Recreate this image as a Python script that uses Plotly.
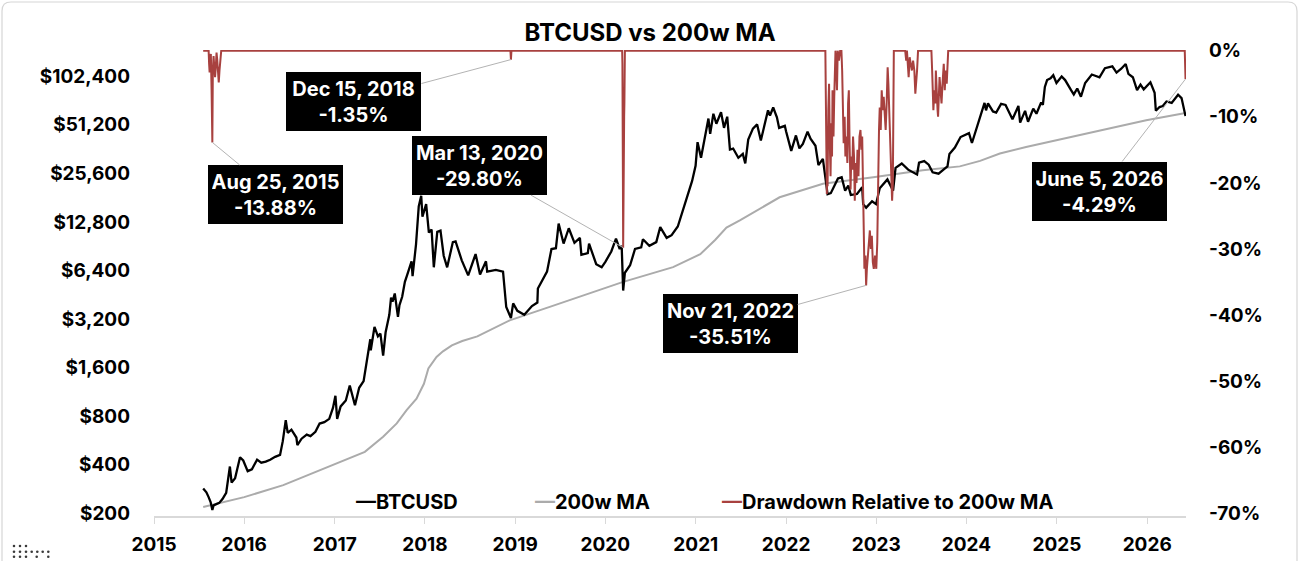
import plotly.graph_objects as go

# ---------------- data ----------------
btc_dates = [
    "2015-07-19", "2015-07-23", "2015-08-01", "2015-08-10", "2015-08-18", "2015-08-25",
    "2015-08-30", "2015-09-10", "2015-09-22", "2015-10-05", "2015-10-20", "2015-11-04",
    "2015-11-11", "2015-11-25", "2015-12-08", "2015-12-15", "2015-12-28", "2016-01-15",
    "2016-02-01", "2016-02-22", "2016-03-10", "2016-03-28", "2016-04-15", "2016-05-05",
    "2016-05-25", "2016-06-05", "2016-06-17", "2016-06-25", "2016-07-10", "2016-07-30",
    "2016-08-03", "2016-08-20", "2016-09-10", "2016-09-25", "2016-10-15", "2016-11-01",
    "2016-11-20", "2016-12-10", "2016-12-25", "2017-01-04", "2017-01-11", "2017-01-25",
    "2017-02-15", "2017-03-03", "2017-03-24", "2017-04-10", "2017-04-28", "2017-05-10",
    "2017-05-25", "2017-05-27", "2017-06-11", "2017-06-25", "2017-07-05", "2017-07-16",
    "2017-07-26", "2017-08-10", "2017-08-17", "2017-08-23", "2017-09-01", "2017-09-14",
    "2017-09-20", "2017-10-01", "2017-10-12", "2017-10-21", "2017-11-08", "2017-11-12",
    "2017-11-26", "2017-12-07", "2017-12-17", "2017-12-22", "2018-01-06", "2018-01-17",
    "2018-01-28", "2018-02-06", "2018-02-20", "2018-03-05", "2018-03-18", "2018-04-01",
    "2018-04-24", "2018-05-05", "2018-05-30", "2018-06-25", "2018-07-25", "2018-08-12",
    "2018-09-05", "2018-09-10", "2018-10-15", "2018-11-13", "2018-11-20", "2018-11-26",
    "2018-12-15", "2018-12-24", "2019-01-10", "2019-02-07", "2019-03-10", "2019-04-01",
    "2019-04-03", "2019-05-10", "2019-05-28", "2019-06-15", "2019-06-26", "2019-07-16",
    "2019-08-06", "2019-08-29", "2019-09-20", "2019-09-26", "2019-10-22", "2019-10-27",
    "2019-11-25", "2019-12-17", "2020-01-01", "2020-01-25", "2020-02-13", "2020-02-28",
    "2020-03-07", "2020-03-13", "2020-03-20", "2020-04-10", "2020-04-30", "2020-05-25",
    "2020-06-01", "2020-06-27", "2020-07-25", "2020-08-10", "2020-09-05", "2020-09-25",
    "2020-10-20", "2020-11-10", "2020-11-25", "2020-12-01", "2020-12-17", "2020-12-31",
    "2021-01-08", "2021-01-22", "2021-02-10", "2021-02-21", "2021-02-28", "2021-03-13",
    "2021-03-25", "2021-04-13", "2021-04-25", "2021-05-08", "2021-05-19", "2021-06-01",
    "2021-06-22", "2021-07-10", "2021-07-20", "2021-08-01", "2021-08-20", "2021-09-06",
    "2021-09-21", "2021-10-05", "2021-10-20", "2021-10-28", "2021-11-10", "2021-11-25",
    "2021-12-04", "2021-12-27", "2022-01-01", "2022-01-22", "2022-02-10", "2022-02-24",
    "2022-03-10", "2022-03-29", "2022-04-10", "2022-04-30", "2022-05-12", "2022-05-30",
    "2022-06-13", "2022-06-18", "2022-07-01", "2022-07-30", "2022-08-14", "2022-08-28",
    "2022-09-10", "2022-09-20", "2022-10-15", "2022-11-05", "2022-11-09", "2022-11-21",
    "2022-12-15", "2022-12-31", "2023-01-15", "2023-02-15", "2023-03-10", "2023-03-20",
    "2023-04-14", "2023-05-10", "2023-06-15", "2023-06-23", "2023-07-14", "2023-08-01",
    "2023-08-17", "2023-09-10", "2023-09-30", "2023-10-16", "2023-10-24", "2023-11-15",
    "2023-12-08", "2024-01-11", "2024-01-23", "2024-02-15", "2024-02-28", "2024-03-14",
    "2024-03-20", "2024-03-28", "2024-04-17", "2024-04-30", "2024-05-20", "2024-06-07",
    "2024-07-05", "2024-07-29", "2024-08-05", "2024-08-25", "2024-09-06", "2024-09-27",
    "2024-10-10", "2024-10-29", "2024-11-05", "2024-11-13", "2024-11-22", "2024-12-06",
    "2024-12-17", "2024-12-30", "2025-01-20", "2025-02-03", "2025-02-27", "2025-03-10",
    "2025-03-24", "2025-04-08", "2025-04-25", "2025-05-22", "2025-06-22", "2025-07-14",
    "2025-08-13", "2025-08-30", "2025-09-18", "2025-10-06", "2025-10-17", "2025-11-04",
    "2025-11-21", "2025-12-05", "2025-12-18", "2026-01-14", "2026-01-31", "2026-02-05",
    "2026-02-20", "2026-03-05", "2026-03-20", "2026-04-10", "2026-05-06", "2026-05-20",
    "2026-06-05",
]
btc_prices = [
    285, 280, 270, 252, 235, 210,
    224, 228, 232, 245, 268, 390,
    310, 330, 410, 445, 425, 365,
    375, 430, 412, 418, 430, 448,
    460, 560, 755, 630, 660, 590,
    530, 580, 615, 602, 640, 720,
    735, 770, 900, 1070, 770, 920,
    1000, 1240, 935, 1200, 1320, 1750,
    2400, 2050, 2860, 2500, 2600, 1900,
    2650, 3400, 4350, 4100, 4610, 3300,
    3900, 4400, 5450, 6000, 7300, 5900,
    9300, 16000, 18600, 13800, 16500, 11000,
    11500, 6700, 11100, 11300, 7900, 6700,
    9600, 9700, 7400, 5970, 8100, 6050,
    7300, 6300, 6450, 6300, 4420, 3800,
    3250, 4000, 3600, 3400, 3850, 4050,
    4950, 6300, 8700, 8800, 12500, 9400,
    11700, 9500, 10200, 8000, 8200, 9400,
    7000, 6700, 7250, 8400, 10100, 8700,
    9100, 4810, 6200, 6900, 8700, 8900,
    10000, 9100, 9600, 11900, 10200, 10600,
    12000, 15300, 18500, 19200, 23000, 28500,
    40000, 32000, 46000, 56000, 45000, 60000,
    52000, 61300, 49000, 57500, 36000, 36500,
    32000, 33800, 29500, 41500, 48500, 51500,
    41000, 50500, 63000, 58500, 65600, 57000,
    49000, 50500, 46700, 35300, 44000, 36600,
    39000, 46500, 42000, 38000, 28800, 31500,
    22500, 19000, 19300, 23800, 24200, 20000,
    21500, 18800, 19100, 21000, 16500, 15700,
    17200, 16500, 20700, 23500, 20000, 27700,
    29500, 27000, 25200, 29800, 30500, 29000,
    26000, 25500, 27000, 28300, 33800, 37000,
    43000, 45500, 39500, 51500, 61000, 70000,
    63000, 69500, 62000, 61000, 69000, 68000,
    55400, 67000, 52800, 62500, 53500, 64500,
    60000, 70500, 68000, 88000, 97000, 99500,
    104000, 93000, 102000, 97000, 84000, 79000,
    86000, 76500, 93000, 105000, 101000, 115000,
    118000, 108000, 114000, 122000, 106000, 101000,
    84000, 91000, 85000, 94000, 81000, 62600,
    66000, 67000, 71500, 70000, 78700, 75000,
    58000,
]

ma_dates = [
    "2015-07-19", "2016-01-01", "2016-06-07", "2016-11-01", "2017-05-03", "2017-07-16",
    "2017-09-09", "2017-10-19", "2017-11-28", "2017-12-28", "2018-01-15", "2018-02-17",
    "2018-03-15", "2018-04-20", "2018-06-01", "2018-08-01", "2018-12-10", "2019-05-21",
    "2019-10-01", "2020-03-10", "2020-10-01", "2021-01-19", "2021-03-20", "2021-05-05",
    "2021-06-28", "2021-09-16", "2021-12-06", "2022-05-30", "2022-12-20", "2023-07-08",
    "2023-12-05", "2024-02-25", "2024-05-15", "2024-08-29", "2025-04-05", "2025-08-04",
    "2025-12-28", "2026-06-05",
]
ma_values = [
    219, 252, 299, 370, 481, 597,
    722, 873, 1027, 1270, 1580, 1865,
    2020, 2200, 2340, 2500, 3140, 3810,
    4480, 5420, 6720, 8080, 9900, 11800,
    13100, 15400, 18200, 22100, 24200, 26750,
    28300, 30600, 34000, 37300, 44500, 48600,
    54600, 60600,
]

dd_dates = [
    "2015-07-19", "2015-08-10", "2015-08-12", "2015-08-14", "2015-08-17", "2015-08-19",
    "2015-08-22", "2015-08-25", "2015-08-27", "2015-08-30", "2015-09-02", "2015-09-05",
    "2015-09-08", "2015-09-11", "2015-09-14", "2015-09-17", "2015-09-20", "2015-09-23",
    "2015-09-27", "2015-09-30",
    "2018-12-13", "2018-12-15", "2018-12-17",
    "2020-03-09", "2020-03-10", "2020-03-11", "2020-03-12", "2020-03-13", "2020-03-14",
    "2020-03-16", "2020-03-17", "2020-03-18", "2020-03-19", "2020-03-20",
    "2022-06-09", "2022-06-11", "2022-06-13", "2022-06-15", "2022-06-17", "2022-06-18",
    "2022-06-21", "2022-06-24", "2022-06-27", "2022-06-30", "2022-07-03", "2022-07-06",
    "2022-07-08", "2022-07-12", "2022-07-15", "2022-07-18", "2022-07-20", "2022-07-23",
    "2022-07-26", "2022-07-29", "2022-08-03", "2022-08-08", "2022-08-13", "2022-08-16",
    "2022-08-19", "2022-08-22", "2022-08-26", "2022-08-29", "2022-09-02", "2022-09-06",
    "2022-09-09", "2022-09-12", "2022-09-15", "2022-09-19", "2022-09-22", "2022-09-26",
    "2022-09-29", "2022-10-03", "2022-10-06", "2022-10-10", "2022-10-13", "2022-10-17",
    "2022-10-21", "2022-10-25", "2022-10-29", "2022-11-02", "2022-11-05", "2022-11-08",
    "2022-11-10", "2022-11-14", "2022-11-18", "2022-11-21", "2022-11-24", "2022-11-28",
    "2022-12-02", "2022-12-06", "2022-12-10", "2022-12-14", "2022-12-18", "2022-12-22",
    "2022-12-27", "2023-01-01", "2023-01-05", "2023-01-08", "2023-01-12", "2023-01-15",
    "2023-01-19", "2023-01-23", "2023-01-27", "2023-01-31", "2023-02-04", "2023-02-08",
    "2023-02-12", "2023-02-16", "2023-02-19", "2023-02-23", "2023-02-28", "2023-03-03",
    "2023-03-06", "2023-03-09", "2023-03-11", "2023-03-13",
    "2023-04-28", "2023-05-02", "2023-05-05", "2023-05-08", "2023-05-12", "2023-05-16",
    "2023-05-20", "2023-05-25", "2023-05-30", "2023-06-04", "2023-06-08", "2023-06-12",
    "2023-06-15", "2023-06-19",
    "2023-08-12", "2023-08-15", "2023-08-17", "2023-08-20", "2023-08-24", "2023-08-28",
    "2023-08-30", "2023-09-02", "2023-09-06", "2023-09-08", "2023-09-11", "2023-09-14",
    "2023-09-18", "2023-09-22", "2023-09-26", "2023-10-01", "2023-10-05", "2023-10-09",
    "2023-10-13", "2023-10-16", "2023-10-19",
    "2026-06-02", "2026-06-05",
]
dd_values = [
    0, 0, -2.0, -3.3, -1.0, -0.5,
    -6.0, -13.88, -3.0, -0.8, -2.5, -4.0,
    -2.5, -0.3, -1.5, -4.2, -4.8, -3.0,
    -0.5, 0,
    0, -1.35, 0,
    0, -2, -6, -19.3, -29.80, -18,
    -17, -10, -8, -3, 0,
    0, -8, -18, -21.7, -12, -20.5,
    -9, -5, -14, -19, -11, -16,
    -6, -13, -7, -2.5, 0, -2,
    -6, 0, -1.5, 0, 0, -3,
    -9, -14, -10, -16, -13, -17,
    -8, -6, -14, -21, -16, -18,
    -13, -16, -22.7, -17, -20, -15,
    -19, -13, -12, -15, -13, -22,
    -30, -33, -31, -35.51, -33, -31,
    -29, -27.2, -30, -28, -32, -33,
    -31, -33, -29, -20, -12, -8.6,
    -12, -6, -9, -7, -10, -12,
    -8, -2.5, -5, -9, -15, -18,
    -22.7, -20, -8, 0,
    0, -1.5, 0, -2.5, -4, -1,
    -2, -3, -1.5, -3, -6.5, -5,
    -3, 0,
    0, -3, -7, -9, -6, -8,
    -3, -7, -9, -10, -8, -4,
    -6, -8, -5, -2, -6, -3,
    -5, -1, 0,
    0, -4.29,
]

# call-outs: date, drawdown value, label lines
callout_dates = ["2015-08-25", "2018-12-15", "2020-03-13", "2022-11-21", "2026-06-05"]
callout_values = [-13.88, -1.35, -29.80, -35.51, -4.29]
callout_titles = ["Aug 25, 2015", "Dec 15, 2018", "Mar 13, 2020", "Nov 21, 2022", "June 5, 2026"]
callout_offsets = [(63, 52), (-157, 42), (-144, -82), (-136, 38), (-86, 112)]

price_tick_vals = [200, 400, 800, 1600, 3200, 6400, 12800, 25600, 51200, 102400]
price_tick_text = ["$200", "$400", "$800", "$1,600", "$3,200", "$6,400",
                   "$12,800", "$25,600", "$51,200", "$102,400"]
dd_tick_vals = [0, -10, -20, -30, -40, -50, -60, -70]
dd_tick_text = ["0%", "-10%", "-20%", "-30%", "-40%", "-50%", "-60%", "-70%"]

series_names = ["BTCUSD", "200w MA", "Drawdown Relative to 200w MA"]

# ---------------- styling / layout ----------------
W, H = 1300, 561
ML, MR, MT, MB = 154, 114, 50, 45
PW, PH = W - ML - MR, H - MT - MB
FONT = "Inter"
RED = "#A8413F"
GREY = "#ABABAB"
BLACK = "#000000"
series_colors = [BLACK, GREY, RED]
legend_left_px = [354, 533, 720]


def px_to_paper(x, y):
    return (x - ML) / PW, (H - MB - y) / PH


fig = go.Figure()

fig.add_trace(go.Scatter(
    x=ma_dates, y=ma_values, name=series_names[1], mode="lines",
    line=dict(color=GREY, width=2), yaxis="y",
))
fig.add_trace(go.Scatter(
    x=btc_dates, y=btc_prices, name=series_names[0], mode="lines",
    line=dict(color=BLACK, width=2.3), yaxis="y",
))
fig.add_trace(go.Scatter(
    x=dd_dates, y=dd_values, name=series_names[2], mode="lines",
    line=dict(color=RED, width=2), yaxis="y2",
))

annotations = []
for d, v, t, (ax, ay) in zip(callout_dates, callout_values, callout_titles, callout_offsets):
    annotations.append(dict(
        x=d, y=v, xref="x", yref="y2",
        text=f"{t}<br>{v:.2f}%",
        showarrow=True, arrowhead=0, arrowwidth=1, arrowcolor="#B3B3B3",
        ax=ax, ay=ay, axref="pixel", ayref="pixel",
        bgcolor="#000000", borderwidth=0, borderpad=4,
        width=127, height=51,
        font=dict(family=FONT, size=20, color="#FFFFFF", weight="bold"),
        align="center",
    ))

# legend drawn as inline keys ("—Name")
for name, col, lx in zip(series_names, series_colors, legend_left_px):
    xp, yp = px_to_paper(lx, 502)
    annotations.append(dict(
        x=xp, y=yp, xref="paper", yref="paper", xanchor="left", yanchor="middle",
        showarrow=False,
        text=f'<span style="color:{col}">—</span>{name}',
        font=dict(family=FONT, size=20, color="#000000", weight="bold"),
    ))

shapes = []
# rounded frame around the card
x0, y0 = px_to_paper(2, 2)
x1, y1 = px_to_paper(1297, 620)
rx, ry = 9 / PW, 9 / PH
path = (f"M{x0 + rx},{y0} L{x1 - rx},{y0} Q{x1},{y0} {x1},{y0 - ry} "
        f"L{x1},{y1} L{x0},{y1} L{x0},{y0 - ry} Q{x0},{y0} {x0 + rx},{y0} Z")
shapes.append(dict(type="path", path=path, xref="paper", yref="paper",
                   line=dict(color="#D6D6D6", width=1.2), layer="below"))
# small dotted logo, bottom left
logo_rows = [(546, [14, 20, 26]),
             (551.7, [14, 20, 26, 31.7, 37.3, 42.7, 48.3]),
             (556.7, [14, 20, 26, 36.7, 48.3])]
for yy, xs in logo_rows:
    for xx in xs:
        a0, b0 = px_to_paper(xx - 1.3, yy - 1.3)
        a1, b1 = px_to_paper(xx + 1.3, yy + 1.3)
        shapes.append(dict(type="circle", xref="paper", yref="paper",
                           x0=a0, x1=a1, y0=b1, y1=b0,
                           fillcolor="#3A3A3A", line=dict(width=0)))

tick_font = dict(family=FONT, size=19, color="#000000", weight="bold")

fig.update_layout(
    width=W, height=H,
    margin=dict(l=ML, r=MR, t=MT, b=MB, pad=0, autoexpand=False),
    paper_bgcolor="#FFFFFF", plot_bgcolor="#FFFFFF",
    font=dict(family=FONT, size=18, color="#000000", weight="bold"),
    title=dict(text="BTCUSD vs 200w MA", x=0.5, xref="container", xanchor="center",
               y=1 - 33 / H, yref="container", yanchor="middle", automargin=False,
               font=dict(family=FONT, size=24, color="#000000", weight="bold")),
    xaxis=dict(
        type="date", range=["2015-01-01", "2026-06-07"],
        tick0="2015-01-01", dtick="M12", tickformat="%Y",
        showgrid=False, zeroline=False, automargin=False,
        showline=True, linecolor="#D9D9D9", linewidth=2,
        ticks="outside", ticklen=6, tickcolor="#D9D9D9", tickwidth=1,
        ticklabelstandoff=4,
        tickfont=tick_font,
    ),
    yaxis=dict(
        type="log", range=[2.2843, 5.1732], automargin=False,
        tickvals=price_tick_vals, ticktext=price_tick_text,
        showgrid=False, zeroline=False, showline=False, ticks="",
        ticklabelstandoff=23,
        tickfont=tick_font,
    ),
    yaxis2=dict(
        overlaying="y", side="right", range=[-70.4, 0.1], automargin=False,
        tickvals=dd_tick_vals, ticktext=dd_tick_text,
        showgrid=False, zeroline=False, showline=False, ticks="",
        ticklabelstandoff=22,
        tickfont=tick_font,
    ),
    showlegend=False,
    annotations=annotations,
    shapes=shapes,
)

fig.write_html("out.html")
